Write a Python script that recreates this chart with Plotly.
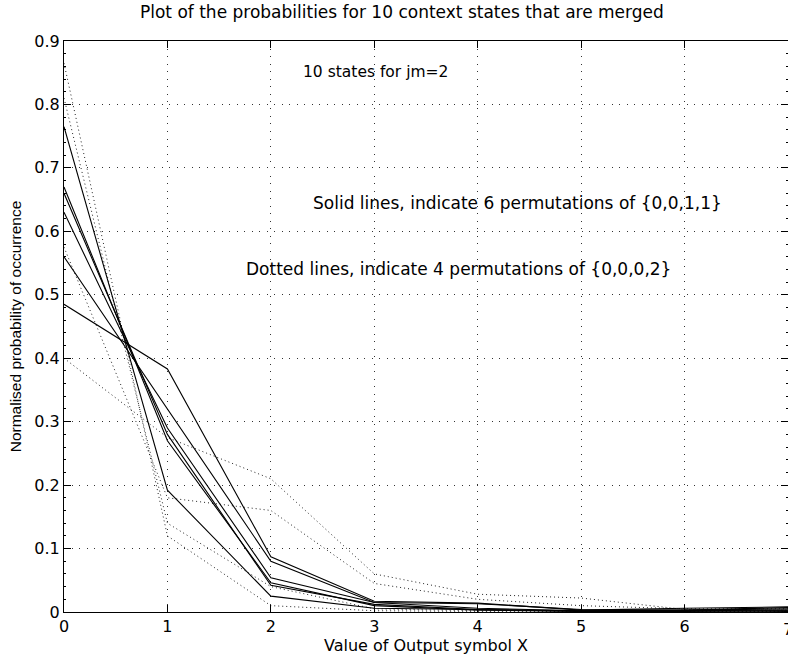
import plotly.graph_objects as go

x_values = [0, 1, 2, 3, 4, 5, 6, 7]

solid_1 = [0.765, 0.192, 0.025, 0.006, 0.004, 0.002, 0.003, 0.005]
solid_2 = [0.670, 0.270, 0.046, 0.010, 0.003, 0.001, 0.001, 0.002]
solid_3 = [0.660, 0.280, 0.042, 0.012, 0.004, 0.001, 0.002, 0.001]
solid_4 = [0.630, 0.290, 0.054, 0.015, 0.006, 0.002, 0.002, 0.003]
solid_5 = [0.560, 0.320, 0.080, 0.015, 0.013, 0.004, 0.003, 0.007]
solid_6 = [0.485, 0.383, 0.087, 0.017, 0.014, 0.003, 0.006, 0.008]

dotted_1 = [0.865, 0.120, 0.010, 0.002, 0.001, 0.001, 0.000, 0.001]
dotted_2 = [0.810, 0.140, 0.040, 0.005, 0.002, 0.001, 0.001, 0.001]
dotted_3 = [0.575, 0.180, 0.160, 0.045, 0.020, 0.010, 0.005, 0.005]
dotted_4 = [0.400, 0.275, 0.210, 0.060, 0.028, 0.022, 0.004, 0.003]

solid_series = [solid_1, solid_2, solid_3, solid_4, solid_5, solid_6]
dotted_series = [dotted_1, dotted_2, dotted_3, dotted_4]

y_ticks = [0, 0.1, 0.2, 0.3, 0.4, 0.5, 0.6, 0.7, 0.8, 0.9]
y_tick_labels = ["0", "0.1", "0.2", "0.3", "0.4", "0.5", "0.6", "0.7", "0.8", "0.9"]
x_ticks = [0, 1, 2, 3, 4, 5, 6, 7]

title_text = "Plot of the probabilities for 10 context states that are merged"
x_title = "Value of Output symbol X"
y_title = "Normalised probability of occurrence"
note_1 = "10 states for jm=2"
note_2 = "Solid lines, indicate 6 permutations of {0,0,1,1}"
note_3 = "Dotted lines, indicate 4 permutations of {0,0,0,2}"

WIDE = "DejaVu Sans, Verdana, sans-serif"
NARROW = "Liberation Sans, Arial, Helvetica, sans-serif"

fig = go.Figure()

for ys in dotted_series:
    fig.add_trace(go.Scatter(
        x=x_values, y=ys, mode="lines",
        line=dict(color="#222222", width=1, dash="1px,3px"),
        showlegend=False, hoverinfo="skip",
    ))

for ys in solid_series:
    fig.add_trace(go.Scatter(
        x=x_values, y=ys, mode="lines",
        line=dict(color="black", width=1.1),
        showlegend=False, hoverinfo="skip",
    ))

fig.add_annotation(x=2.29, y=0.851, text=note_1, showarrow=False,
                   xanchor="left", yanchor="middle", font=dict(size=15.5, color="black", family=WIDE))
fig.add_annotation(x=2.39, y=0.644, text=note_2, showarrow=False,
                   xanchor="left", yanchor="middle", font=dict(size=17, color="black", family=WIDE))
fig.add_annotation(x=1.74, y=0.540, text=note_3, showarrow=False,
                   xanchor="left", yanchor="middle", font=dict(size=17, color="black", family=WIDE))

# last x tick label (partly outside the window, as in the reference)
fig.add_annotation(x=1.0, xref="paper", y=0, yref="paper", yshift=-17,
                   text=str(x_ticks[-1]), showarrow=False, xanchor="center", yanchor="middle",
                   font=dict(size=16, color="black", family=WIDE))

fig.update_layout(
    width=788, height=662,
    margin=dict(l=64, r=0, t=41, b=50),
    paper_bgcolor="white", plot_bgcolor="white",
    font=dict(family=WIDE, size=16, color="black"),
    title=dict(text=title_text, x=0.51, xref="container", xanchor="center",
               y=1 - 12 / 662, yref="container", yanchor="middle",
               font=dict(size=17, family=WIDE, color="black")),
)

fig.update_xaxes(
    range=[0, 7], tickmode="array", tickvals=x_ticks, ticktext=[str(v) for v in x_ticks],
    showline=True, linecolor="black", linewidth=1, mirror="ticks",
    ticks="inside", ticklen=7, tickcolor="black",
    showgrid=True, gridcolor="#333333", gridwidth=1, griddash="1px,6.5px",
    zeroline=False,
    tickfont=dict(size=16, family=WIDE),
    title=dict(text=x_title, standoff=4, font=dict(size=16, family=WIDE)),
)
fig.update_yaxes(
    range=[0, 0.9], tickmode="array", tickvals=y_ticks, ticktext=y_tick_labels,
    showline=True, linecolor="black", linewidth=1, mirror="ticks",
    ticks="inside", ticklen=7, tickcolor="black",
    showgrid=True, gridcolor="#333333", gridwidth=1, griddash="1px,6.5px",
    zeroline=False,
    tickfont=dict(size=16, family=WIDE),
    title=dict(text=y_title, standoff=8, font=dict(size=15.5, family=NARROW)),
    minor=dict(ticks="inside", ticklen=2, dtick=0.02, tickcolor="black", showgrid=False),
)

fig.write_html("out.html")
